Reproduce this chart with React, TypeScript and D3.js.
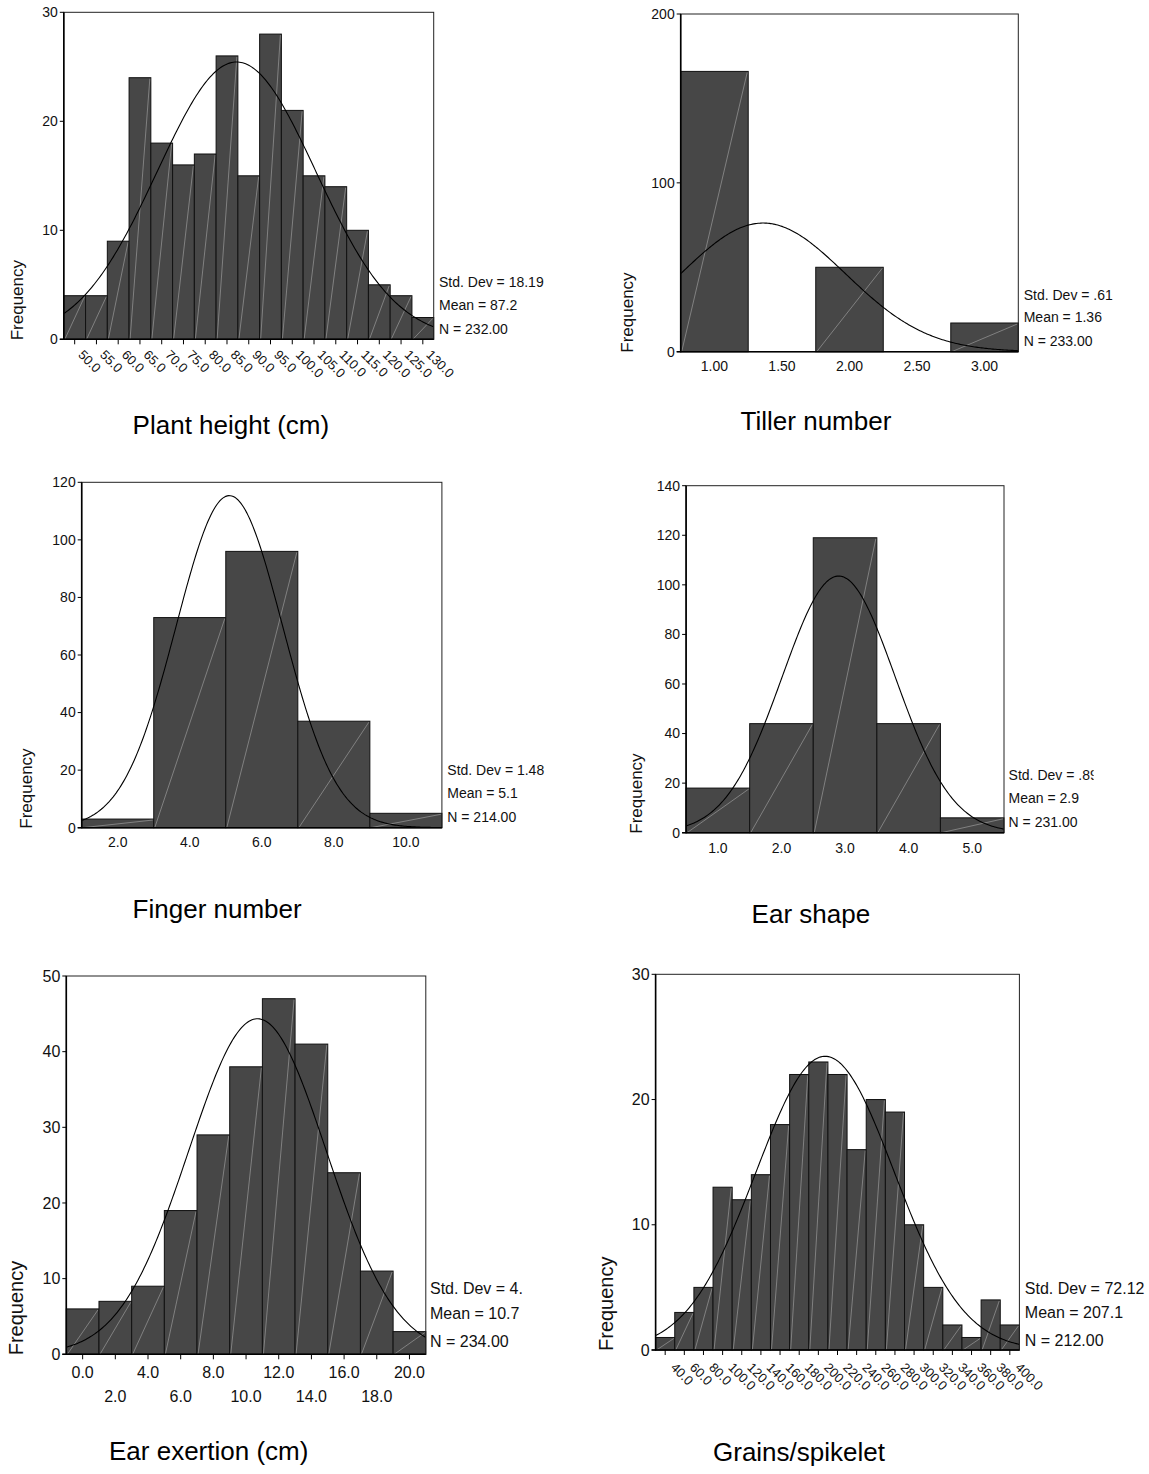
import React from 'react';
import * as d3 from 'd3';

const FONT = '"Liberation Sans", Arial, Helvetica, sans-serif';

// ---------- Plant height (cm)
const plantHeightCenters = [50, 55, 60, 65, 70, 75, 80, 85, 90, 95, 100, 105, 110, 115, 120, 125, 130];
const plantHeightCounts = [4, 4, 9, 24, 18, 16, 17, 26, 15, 28, 21, 15, 14, 10, 5, 4, 2];
const plantHeightLabels = ['50.0', '55.0', '60.0', '65.0', '70.0', '75.0', '80.0', '85.0', '90.0', '95.0', '100.0', '105.0', '110.0', '115.0', '120.0', '125.0', '130.0'];
const plantHeightYTicks = [0, 10, 20, 30];
const plantHeightStats = ['Std. Dev = 18.19', 'Mean = 87.2', 'N = 232.00'];
const plantHeightFit = { mean: 87.2, sd: 18.19, n: 232, width: 5 };

// ---------- Tiller number
const tillerCenters = [1, 1.5, 2, 2.5, 3];
const tillerCounts = [166, 0, 50, 0, 17];
const tillerLabels = ['1.00', '1.50', '2.00', '2.50', '3.00'];
const tillerYTicks = [0, 100, 200];
const tillerStats = ['Std. Dev = .61', 'Mean = 1.36', 'N = 233.00'];
const tillerFit = { mean: 1.36, sd: 0.61, n: 233, width: 0.5 };

// ---------- Finger number
const fingerCenters = [2, 4, 6, 8, 10];
const fingerCounts = [3, 73, 96, 37, 5];
const fingerLabels = ['2.0', '4.0', '6.0', '8.0', '10.0'];
const fingerYTicks = [0, 20, 40, 60, 80, 100, 120];
const fingerStats = ['Std. Dev = 1.48', 'Mean = 5.1', 'N = 214.00'];
const fingerFit = { mean: 5.1, sd: 1.48, n: 214, width: 2 };

// ---------- Ear shape
const earShapeCenters = [1, 2, 3, 4, 5];
const earShapeCounts = [18, 44, 119, 44, 6];
const earShapeLabels = ['1.0', '2.0', '3.0', '4.0', '5.0'];
const earShapeYTicks = [0, 20, 40, 60, 80, 100, 120, 140];
const earShapeStats = ['Std. Dev = .89', 'Mean = 2.9', 'N = 231.00'];
const earShapeFit = { mean: 2.9, sd: 0.89, n: 231, width: 1 };

// ---------- Ear exertion (cm)
const earExCenters = [0, 2, 4, 6, 8, 10, 12, 14, 16, 18, 20];
const earExCounts = [6, 7, 9, 19, 29, 38, 47, 41, 24, 11, 3];
const earExLabels = ['0.0', '2.0', '4.0', '6.0', '8.0', '10.0', '12.0', '14.0', '16.0', '18.0', '20.0'];
const earExYTicks = [0, 10, 20, 30, 40, 50];
const earExStats = ['Std. Dev = 4.', 'Mean = 10.7', 'N = 234.00'];
const earExFit = { mean: 10.7, sd: 4.21, n: 234, width: 2 };

// ---------- Grains/spikelet
const grainsCenters = [40, 60, 80, 100, 120, 140, 160, 180, 200, 220, 240, 260, 280, 300, 320, 340, 360, 380, 400];
const grainsCounts = [1, 3, 5, 13, 12, 14, 18, 22, 23, 22, 16, 20, 19, 10, 5, 2, 1, 4, 2];
const grainsLabels = ['40.0', '60.0', '80.0', '100.0', '120.0', '140.0', '160.0', '180.0', '200.0', '220.0', '240.0', '260.0', '280.0', '300.0', '320.0', '340.0', '360.0', '380.0', '400.0'];
const grainsYTicks = [0, 10, 20, 30];
const grainsStats = ['Std. Dev = 72.12', 'Mean = 207.1', 'N = 212.00'];
const grainsFit = { mean: 207.1, sd: 72.12, n: 212, width: 20 };

type PanelCfg = {
  id: string;
  title: string;
  centers: number[];
  counts: number[];
  labels: string[];
  yTicks: number[];
  stats: string[];
  fit: { mean: number; sd: number; n: number; width: number };
  xDomain: [number, number];
  left: number; right: number; top: number; bottom: number;
  labelMode: 'rotate' | 'flat' | 'twoRow';
  tickMarks: boolean;
  fs: number;
  freqFs: number;
  freqX: number;
  statsX: number;
  statsDy: number[];
  statsClipRight?: number;
  titleX: number;
  titleY: number;
  flatDy?: number;
};

const panels: PanelCfg[] = [
  {
    id: 'p1', title: 'Plant height (cm)', centers: plantHeightCenters, counts: plantHeightCounts,
    labels: plantHeightLabels, yTicks: plantHeightYTicks, stats: plantHeightStats, fit: plantHeightFit,
    xDomain: [47.5, 132.5], left: 63.8, right: 433.7, top: 12.3, bottom: 339.3,
    labelMode: 'rotate', tickMarks: true, fs: 14, freqFs: 17, freqX: 23.3,
    statsX: 439, statsDy: [-52, -29.5, -5.5], titleX: 132.6, titleY: 434,
  },
  {
    id: 'p2', title: 'Tiller number', centers: tillerCenters, counts: tillerCounts,
    labels: tillerLabels, yTicks: tillerYTicks, stats: tillerStats, fit: tillerFit,
    xDomain: [0.75, 3.25], left: 680.7, right: 1018.3, top: 14, bottom: 351.7,
    labelMode: 'flat', tickMarks: false, fs: 14, freqFs: 17, freqX: 633,
    statsX: 1023.7, statsDy: [-52, -29.5, -5.5], titleX: 740.6, titleY: 430, flatDy: 19,
  },
  {
    id: 'p3', title: 'Finger number', centers: fingerCenters, counts: fingerCounts,
    labels: fingerLabels, yTicks: fingerYTicks, stats: fingerStats, fit: fingerFit,
    xDomain: [1, 11], left: 81.7, right: 441.9, top: 482.3, bottom: 827.7,
    labelMode: 'flat', tickMarks: false, fs: 14, freqFs: 17, freqX: 32.2,
    statsX: 447.3, statsDy: [-53, -30, -6], titleX: 132.6, titleY: 918, flatDy: 19,
  },
  {
    id: 'p4', title: 'Ear shape', centers: earShapeCenters, counts: earShapeCounts,
    labels: earShapeLabels, yTicks: earShapeYTicks, stats: earShapeStats, fit: earShapeFit,
    xDomain: [0.5, 5.5], left: 686.1, right: 1004, top: 485.7, bottom: 832.7,
    labelMode: 'flat', tickMarks: false, fs: 14, freqFs: 17, freqX: 642,
    statsX: 1008.6, statsDy: [-53, -30, -6], statsClipRight: 1093.6, titleX: 751.6, titleY: 923, flatDy: 20,
  },
  {
    id: 'p5', title: 'Ear exertion (cm)', centers: earExCenters, counts: earExCounts,
    labels: earExLabels, yTicks: earExYTicks, stats: earExStats, fit: earExFit,
    xDomain: [-1, 21], left: 66.3, right: 425.8, top: 976, bottom: 1354.3,
    labelMode: 'twoRow', tickMarks: true, fs: 16, freqFs: 20, freqX: 22.7,
    statsX: 430, statsDy: [-60, -35, -7.5], titleX: 109, titleY: 1460,
  },
  {
    id: 'p6', title: 'Grains/spikelet', centers: grainsCenters, counts: grainsCounts,
    labels: grainsLabels, yTicks: grainsYTicks, stats: grainsStats, fit: grainsFit,
    xDomain: [30, 410], left: 655.6, right: 1019.4, top: 974.3, bottom: 1350,
    labelMode: 'rotate', tickMarks: true, fs: 16, freqFs: 20, freqX: 612.7,
    statsX: 1024.8, statsDy: [-56, -32, -4], titleX: 713, titleY: 1461,
  },
];

function Panel({ p }: { p: PanelCfg }) {
  const x = d3.scaleLinear().domain(p.xDomain).range([p.left, p.right]);
  const yMax = p.yTicks[p.yTicks.length - 1];
  const y = d3.scaleLinear().domain([0, yMax]).range([p.bottom, p.top]);
  const hw = p.fit.width / 2;
  const bars = p.centers
    .map((c, i) => ({ x0: x(c - hw), x1: x(c + hw), v: p.counts[i] }))
    .filter((b) => b.v > 0);

  const k = (p.fit.n * p.fit.width) / (p.fit.sd * Math.sqrt(2 * Math.PI));
  const fitFn = (v: number) => k * Math.exp(-0.5 * ((v - p.fit.mean) / p.fit.sd) ** 2);
  const nSamp = 240;
  const xs = d3.range(nSamp + 1).map((i) => p.xDomain[0] + ((p.xDomain[1] - p.xDomain[0]) * i) / nSamp);
  const line = d3.line<number>().x((d) => x(d)).y((d) => y(fitFn(d))).curve(d3.curveLinear);

  const rotOffX = p.fs >= 16 ? 8 : 6;
  const rotOffY = p.fs >= 16 ? 15 : 13;
  const tickFs = p.labelMode === 'rotate' ? 13 : p.fs;

  return (
    <g>
      <defs>
        <clipPath id={`clip-${p.id}`}>
          <rect x={p.left} y={p.top} width={p.right - p.left} height={p.bottom - p.top} />
        </clipPath>
        {p.statsClipRight !== undefined && (
          <clipPath id={`sclip-${p.id}`}>
            <rect x={p.statsX - 5} y={p.top} width={p.statsClipRight - p.statsX + 5} height={p.bottom - p.top + 20} />
          </clipPath>
        )}
      </defs>
      {/* bars */}
      {bars.map((b, i) => (
        <g key={i}>
          <rect x={b.x0} y={y(b.v)} width={b.x1 - b.x0} height={y(0) - y(b.v)} fill="#474747" stroke="#111" strokeWidth={1} />
          <line x1={b.x0 + 1} y1={y(0)} x2={b.x1 - 1} y2={y(b.v) + 1} stroke="#a8a8a8" strokeWidth={0.6} />
        </g>
      ))}
      {/* fitted normal curve */}
      <path d={line(xs) || ''} fill="none" stroke="#000" strokeWidth={1.1} clipPath={`url(#clip-${p.id})`} />
      {/* frame */}
      <rect x={p.left} y={p.top} width={p.right - p.left} height={p.bottom - p.top} fill="none" stroke="#222" strokeWidth={1} />
      <line x1={p.left} y1={p.top} x2={p.left} y2={p.bottom + 0.5} stroke="#000" strokeWidth={1.6} />
      <line x1={p.left - 4} y1={p.bottom} x2={p.right} y2={p.bottom} stroke="#000" strokeWidth={1.6} />
      {/* y ticks */}
      {p.yTicks.map((t) => (
        <g key={t}>
          <line x1={p.left - 4} x2={p.left} y1={y(t)} y2={y(t)} stroke="#000" strokeWidth={1} />
          <text x={p.left - 6} y={y(t)} dy="0.35em" textAnchor="end" fontSize={p.fs} fill="#111">{t}</text>
        </g>
      ))}
      {/* x ticks */}
      {p.centers.map((c, i) => {
        const tx = x(c);
        return (
          <g key={i}>
            {p.tickMarks && <line x1={tx} x2={tx} y1={p.bottom} y2={p.bottom + 5} stroke="#000" strokeWidth={1} />}
            {p.labelMode === 'flat' && (
              <text x={tx} y={p.bottom + (p.flatDy || 19)} textAnchor="middle" fontSize={p.fs} fill="#111">{p.labels[i]}</text>
            )}
            {p.labelMode === 'twoRow' && (
              <text x={tx} y={p.bottom + (i % 2 === 0 ? 23.5 : 47.5)} textAnchor="middle" fontSize={p.fs} fill="#111">{p.labels[i]}</text>
            )}
            {p.labelMode === 'rotate' && (
              <text transform={`translate(${tx + rotOffX},${p.bottom + rotOffY}) rotate(45)`} dy="0.35em" textAnchor="start" fontSize={tickFs} fill="#111">{p.labels[i]}</text>
            )}
          </g>
        );
      })}
      {/* stats */}
      <g clipPath={p.statsClipRight !== undefined ? `url(#sclip-${p.id})` : undefined}>
        {p.stats.map((s, i) => (
          <text key={i} x={p.statsX} y={p.bottom + p.statsDy[i]} fontSize={p.fs} fill="#111">{s}</text>
        ))}
      </g>
      {/* y label */}
      <text transform={`translate(${p.freqX},${p.bottom + 1}) rotate(-90)`} textAnchor="start" fontSize={p.freqFs} fill="#111">Frequency</text>
      {/* title */}
      <text x={p.titleX} y={p.titleY} fontSize={26} fill="#000">{p.title}</text>
    </g>
  );
}

export default function App() {
  return (
    <svg
      width={1149}
      height={1474}
      viewBox="0 0 1149 1474"
      style={{ position: 'absolute', left: 0, top: 0, background: '#fff', fontFamily: FONT }}
    >
      <rect x={0} y={0} width={1149} height={1474} fill="#fff" />
      {panels.map((p) => (
        <Panel key={p.id} p={p} />
      ))}
    </svg>
  );
}
